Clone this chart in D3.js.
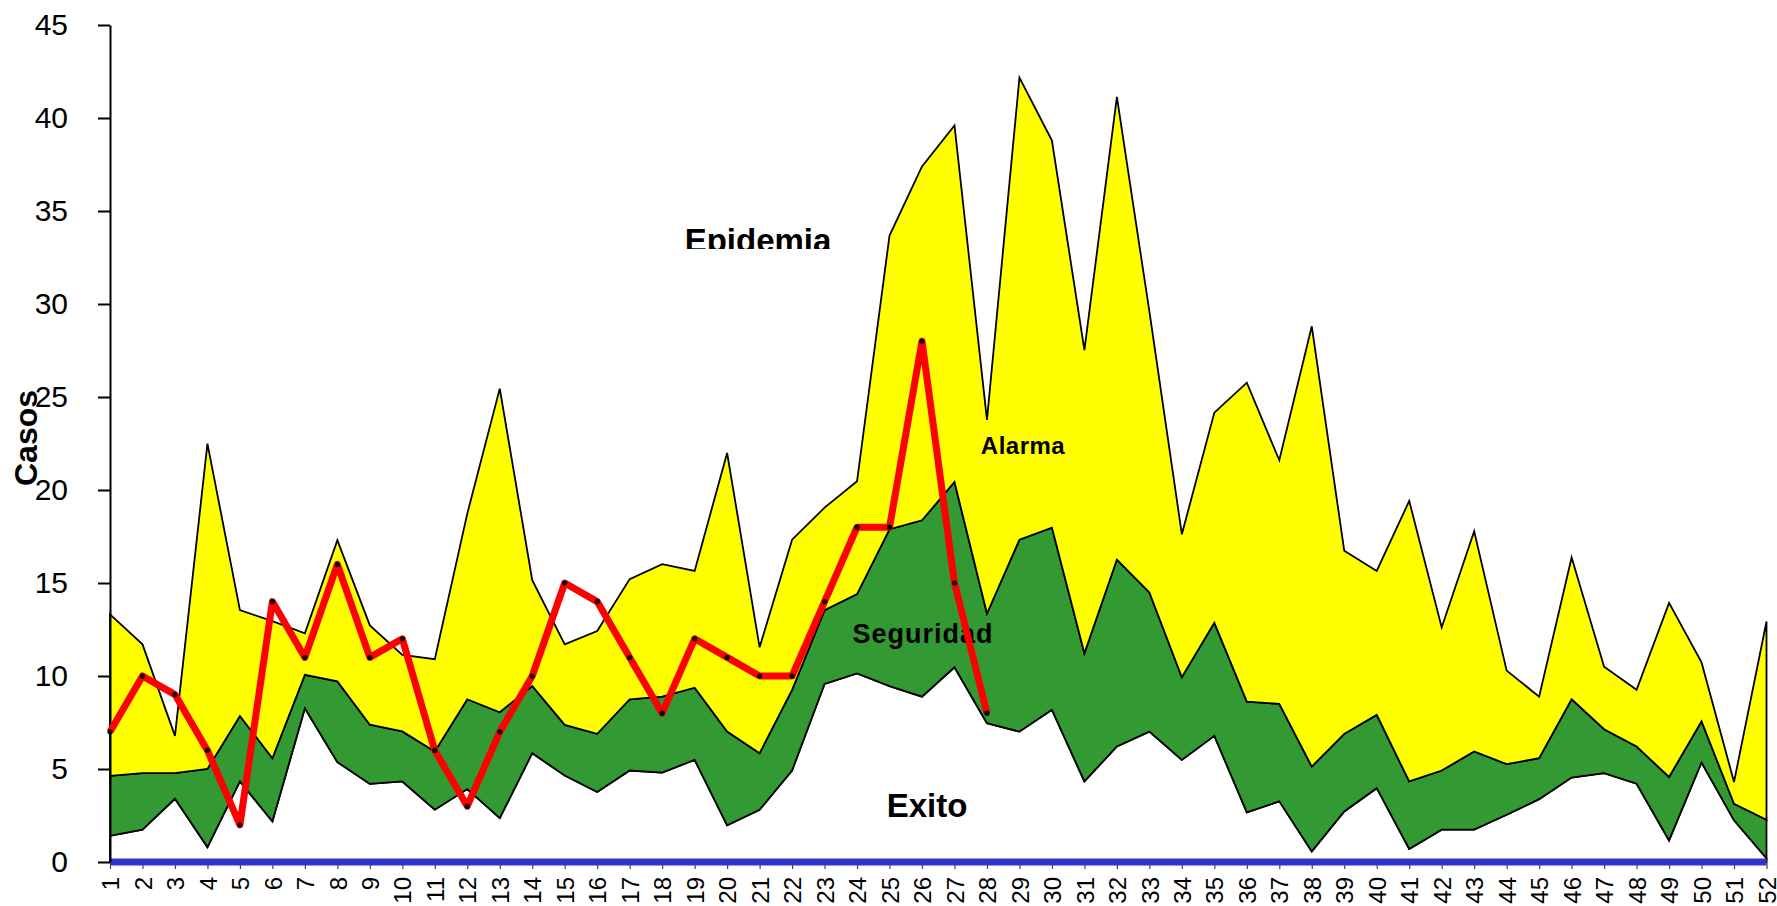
<!DOCTYPE html>
<html>
<head>
<meta charset="utf-8">
<script src="https://cdn.jsdelivr.net/npm/d3@7"></script>
<style>
  body { margin: 0; background: #fff; }
  svg { display: block; font-family: "Liberation Sans", Arial, sans-serif; }
  .zona { font-weight: bold; fill: #000; }
</style>
</head>
<body>
<div id="grafica"></div>
<script>
// semanas epidemiologicas
const semanas = [1, 2, 3, 4, 5, 6, 7, 8, 9, 10, 11, 12, 13, 14, 15, 16, 17, 18, 19, 20,
  21, 22, 23, 24, 25, 26, 27, 28, 29, 30, 31, 32, 33, 34, 35, 36, 37, 38, 39, 40,
  41, 42, 43, 44, 45, 46, 47, 48, 49, 50, 51, 52];

// limite inferior del canal (Exito / Seguridad)
const limiteExito = [1.41, 1.74, 3.40, 0.80, 4.33, 2.18, 8.27, 5.37, 4.20, 4.33,
  2.81, 3.92, 2.36, 5.85, 4.65, 3.76, 4.92, 4.81, 5.49, 1.97,
  2.81, 4.92, 9.57, 10.14, 9.46, 8.89, 10.47, 7.46, 7.01, 8.18,
  4.33, 6.21, 7.01, 5.49, 6.78, 2.67, 3.26, 0.57, 2.72, 3.97,
  0.70, 1.74, 1.74, 2.54, 3.38, 4.54, 4.78, 4.21, 1.16, 5.35, 2.24, 0.20];

// limite Seguridad / Alarma
const limiteSeguridad = [4.63, 4.78, 4.78, 5.00, 7.85, 5.58, 10.06, 9.71, 7.38, 7.02,
  5.94, 8.75, 8.05, 9.46, 7.37, 6.89, 8.75, 8.89, 9.37, 7.01,
  5.85, 9.25, 13.54, 14.40, 17.89, 18.37, 20.43, 13.36, 17.33, 17.98,
  11.22, 16.26, 14.49, 9.93, 12.86, 8.62, 8.50, 5.13, 6.89, 7.91,
  4.33, 4.92, 5.94, 5.26, 5.58, 8.75, 7.14, 6.21, 4.57, 7.56, 3.13, 2.27];

// limite Alarma / Epidemia
const limiteAlarma = [13.31, 11.70, 6.78, 22.49, 13.54, 12.95, 12.30, 17.30, 12.72, 11.14,
  10.90, 18.73, 25.45, 15.15, 11.70, 12.42, 15.21, 16.01, 15.65, 21.99,
  11.54, 17.33, 19.05, 20.47, 33.68, 37.40, 39.60, 23.77, 42.17, 38.79,
  27.52, 41.13, 29.60, 17.62, 24.16, 25.77, 21.60, 28.80, 16.73, 15.65,
  19.41, 12.61, 17.78, 10.29, 8.89, 16.37, 10.50, 9.26, 13.93, 10.73, 4.30, 12.93];

// casos observados (semanas 1 a 28)
const casos = [7, 10, 9, 6, 2, 14, 11, 16, 11, 12, 6, 3, 7, 10, 15, 14,
  11, 8, 12, 11, 10, 10, 14, 18, 18, 28, 15, 8];

const ticksY = [0, 5, 10, 15, 20, 25, 30, 35, 40, 45];

const width = 1777;
const height = 906;

const svg = d3.select("#grafica").append("svg")
  .attr("width", width)
  .attr("height", height);

const x = d3.scalePoint().domain(semanas).range([110, 1766.5]);
const y = d3.scaleLinear().domain([0, 45]).range([862, 25]);

const filas = semanas.map((s, i) => ({
  semana: s,
  exito: limiteExito[i],
  seguridad: limiteSeguridad[i],
  alarma: limiteAlarma[i]
}));

const area = (abajo, arriba) => d3.area()
  .x(d => x(d.semana))
  .y0(d => abajo(d))
  .y1(d => arriba(d));

const capas = [
  { color: "#ffffff", gen: area(d => y(0), d => y(d.exito)) },
  { color: "#339933", gen: area(d => y(d.exito), d => y(d.seguridad)) },
  { color: "#ffff00", gen: area(d => y(d.seguridad), d => y(d.alarma)) }
];

const grupoAreas = svg.append("g").attr("class", "areas");
grupoAreas.selectAll("path")
  .data(capas)
  .enter()
  .append("path")
  .attr("d", c => c.gen(filas))
  .attr("fill", c => c.color)
  .attr("stroke", "#000")
  .attr("stroke-width", 1.8)
  .attr("stroke-linejoin", "miter");

// eje x: linea azul y etiquetas verticales
const ejeX = svg.append("g")
  .attr("transform", `translate(0,${y(0)})`)
  .call(d3.axisBottom(x).tickSize(7).tickSizeOuter(0));
ejeX.select(".domain").remove();
ejeX.selectAll(".tick line").attr("stroke", "#444").attr("stroke-width", 1.2);
ejeX.selectAll(".tick text")
  .attr("transform", "rotate(-90)")
  .attr("text-anchor", "end")
  .attr("x", -15)
  .attr("y", 0)
  .attr("dy", "0.36em")
  .attr("font-size", 24)
  .attr("font-family", "Liberation Sans, Arial, sans-serif")
  .attr("fill", "#000");

svg.append("line")
  .attr("x1", x(semanas[0]))
  .attr("x2", x(semanas[semanas.length - 1]))
  .attr("y1", y(0))
  .attr("y2", y(0))
  .attr("stroke", "#3333cc")
  .attr("stroke-width", 7);

// eje y
const ejeY = svg.append("g")
  .attr("transform", `translate(${x(semanas[0])},0)`)
  .call(d3.axisLeft(y).tickValues(ticksY).tickSize(12).tickSizeOuter(0).tickPadding(30));
ejeY.select(".domain").attr("stroke", "#000").attr("stroke-width", 2);
ejeY.selectAll(".tick line").attr("stroke", "#000").attr("stroke-width", 2);
ejeY.selectAll(".tick text")
  .attr("font-size", 30)
  .attr("font-family", "Liberation Sans, Arial, sans-serif")
  .attr("fill", "#000");

svg.append("text")
  .attr("class", "zona")
  .attr("transform", "translate(37,438) rotate(-90)")
  .attr("text-anchor", "middle")
  .attr("font-size", 32)
  .text("Casos");

// nombres de las zonas del canal
svg.append("clipPath")
  .attr("id", "corte")
  .append("rect")
  .attr("x", 600).attr("y", 150)
  .attr("width", 300).attr("height", 99);

svg.append("text")
  .attr("class", "zona")
  .attr("clip-path", "url(#corte)")
  .attr("x", 758).attr("y", 252)
  .attr("text-anchor", "middle")
  .attr("font-size", 33)
  .text("Epidemia");

svg.append("text")
  .attr("class", "zona")
  .attr("x", 1023).attr("y", 454)
  .attr("text-anchor", "middle")
  .attr("font-size", 24)
  .attr("letter-spacing", 0.5)
  .text("Alarma");

svg.append("text")
  .attr("class", "zona")
  .attr("x", 923).attr("y", 643)
  .attr("text-anchor", "middle")
  .attr("font-size", 27)
  .attr("letter-spacing", 1)
  .text("Seguridad");

svg.append("text")
  .attr("class", "zona")
  .attr("x", 927).attr("y", 817)
  .attr("text-anchor", "middle")
  .attr("font-size", 33)
  .text("Exito");

// serie de casos
const linea = d3.line()
  .x((d, i) => x(semanas[i]))
  .y(d => y(d));

svg.append("path")
  .datum(casos)
  .attr("d", linea)
  .attr("fill", "none")
  .attr("stroke", "#ff0000")
  .attr("stroke-width", 7)
  .attr("stroke-linejoin", "round");

svg.selectAll(".punto")
  .data(casos)
  .enter()
  .append("circle")
  .attr("class", "punto")
  .attr("cx", (d, i) => x(semanas[i]))
  .attr("cy", d => y(d))
  .attr("r", 2.6)
  .attr("fill", "#000");
</script>
</body>
</html>
